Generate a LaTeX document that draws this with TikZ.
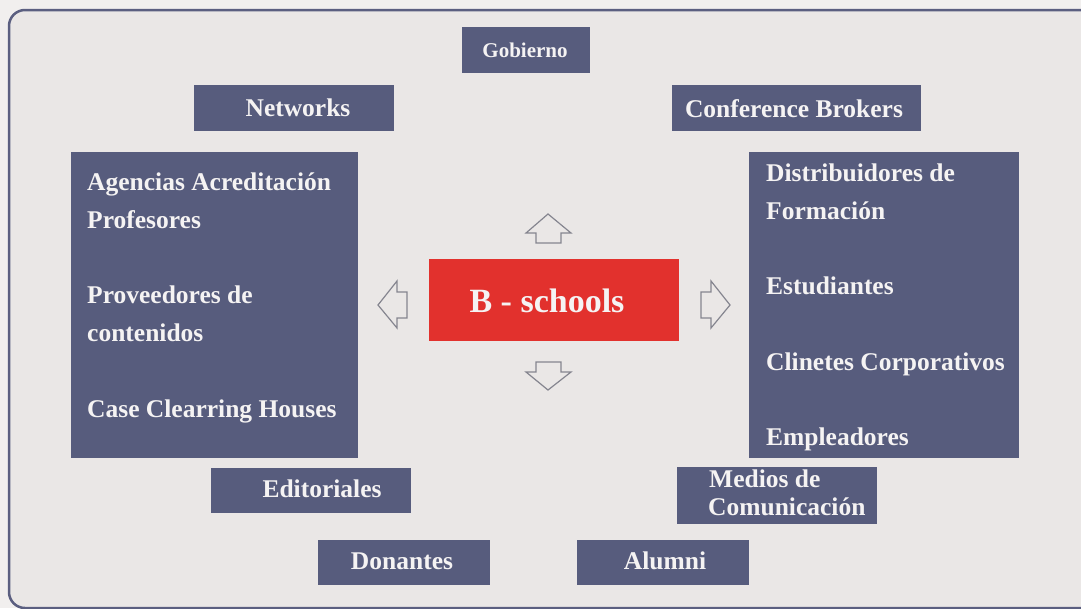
\documentclass[tikz,border=0pt]{standalone}
\usepackage{fontspec}
\setmainfont{Liberation Serif}
\definecolor{outbg}{HTML}{F1EFEE}
\definecolor{inbg}{HTML}{EAE7E6}
\definecolor{frame}{HTML}{5B5F80}
\definecolor{boxc}{HTML}{575C7D}
\definecolor{redc}{HTML}{E2312D}
\definecolor{txt}{HTML}{F5F3F3}
\definecolor{arr}{HTML}{85858F}
\tikzset{
  box/.style={draw=none, fill=boxc, inner sep=0pt, rectangle},
  redbox/.style={draw=none, fill=redc, inner sep=0pt, rectangle},
  lbl/.style={text=txt, font=\fontsize{25.5}{28}\selectfont\bfseries, inner sep=0pt, anchor=base},
  lblw/.style={lbl, anchor=base west},
  hollow/.style={draw=arr, line width=1.2pt, fill=inbg, line join=miter}
}
\begin{document}
\begin{tikzpicture}[x=1pt,y=-1pt]
\useasboundingbox (0,0) rectangle (1081,608);
\fill[outbg] (0,0) rectangle (1081,608);
\begin{scope}
\clip (0,0) rectangle (1081,608);
\draw[frame, line width=2.5pt, fill=inbg, rounded corners=16pt] (9,10) rectangle (1100,608);
\end{scope}

% boxes
\node[box, minimum width=128pt, minimum height=46pt] (gob) at (526,50) {};
\node[box, minimum width=200pt, minimum height=46pt] (net) at (294,108) {};
\node[box, minimum width=249pt, minimum height=46pt] (conf) at (796.5,108) {};
\node[box, minimum width=287pt, minimum height=306pt] (left) at (214.5,305) {};
\node[box, minimum width=270pt, minimum height=306pt] (right) at (884,305) {};
\node[redbox, minimum width=250pt, minimum height=82pt] (bs) at (554,300) {};
\node[box, minimum width=200pt, minimum height=45pt] (edi) at (311,490.5) {};
\node[box, minimum width=200pt, minimum height=57pt] (med) at (777,495.5) {};
\node[box, minimum width=172pt, minimum height=45pt] (don) at (404,562.5) {};
\node[box, minimum width=172pt, minimum height=45pt] (alu) at (663,562.5) {};

% labels
\node[lbl, font=\fontsize{21}{24}\selectfont\bfseries] (gobT) at (525,57) {Gobierno};
\node[lbl] (netT) at (298,116.5) {Networks};
\node[lbl] (confT) at (794,117) {Conference Brokers};
\node[lbl, font=\fontsize{34}{38}\selectfont\bfseries] (bsT) at (547,312) {B - schools};
\node[lbl] (ediT) at (322,497) {Editoriales};
\node[lbl] (donT) at (402,569) {Donantes};
\node[lbl] (aluT) at (665,569) {Alumni};
\node[lblw] (medA) at (709,487) {Medios de};
\node[lblw] (medB) at (708,515) {Comunicación};

\node[lblw] (l1) at (87,190) {Agencias Acreditación};
\node[lblw] (l2) at (87,228) {Profesores};
\node[lblw] (l3) at (87,303) {Proveedores de};
\node[lblw] (l4) at (87,341) {contenidos};
\node[lblw] (l5) at (87,417) {Case Clearring Houses};

\node[lblw] (r1) at (766,181) {Distribuidores de};
\node[lblw] (r2) at (766,219) {Formación};
\node[lblw] (r3) at (766,294) {Estudiantes};
\node[lblw] (r4) at (766,370) {Clinetes Corporativos};
\node[lblw] (r5) at (766,445) {Empleadores};

% hollow arrows
\draw[hollow] (548,214) -- (571,233) -- (561,233) -- (561,243) -- (536,243) -- (536,233) -- (526,233) -- cycle;
\draw[hollow] (548,390) -- (571,372) -- (561,372) -- (561,362) -- (536,362) -- (536,372) -- (526,372) -- cycle;
\draw[hollow] (378,305) -- (397,281) -- (397,292) -- (407,292) -- (407,318) -- (397,318) -- (397,328) -- cycle;
\draw[hollow] (730,305) -- (711,281) -- (711,292) -- (701,292) -- (701,318) -- (711,318) -- (711,328) -- cycle;
\end{tikzpicture}
\end{document}
